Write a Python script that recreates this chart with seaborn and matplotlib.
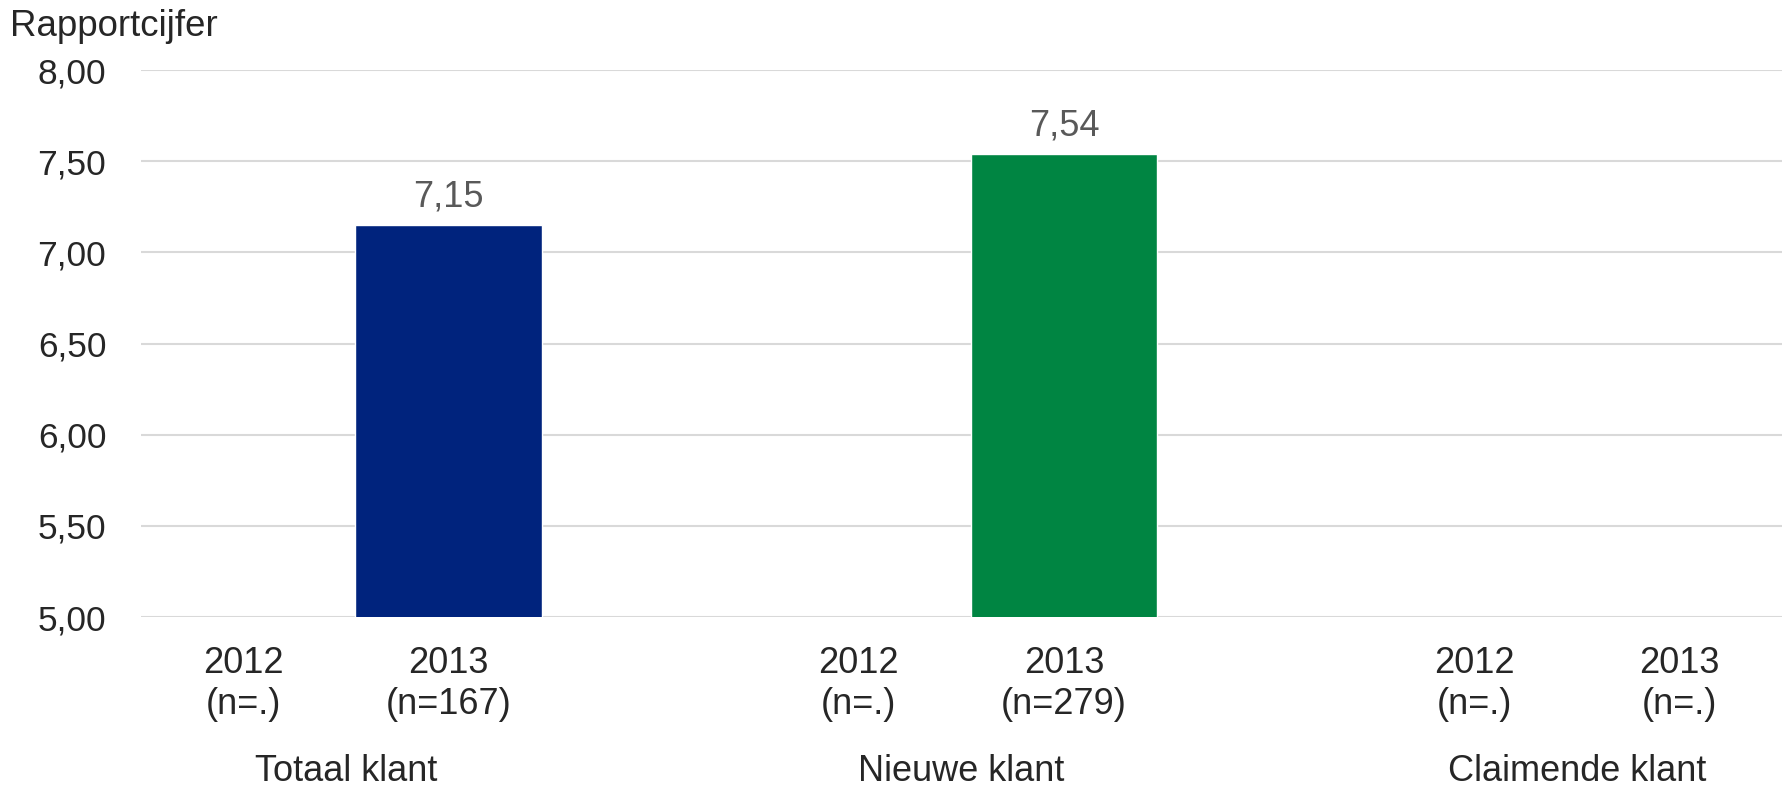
import numpy as np
import pandas as pd
import matplotlib
matplotlib.use("Agg")
import matplotlib.pyplot as plt
import matplotlib.transforms as mtransforms
import seaborn as sns

# Chart data
groups = ["Totaal klant", "Nieuwe klant", "Claimende klant"]
years = ["2012", "2013"]
n_values = [[".", "167"], [".", "279"], [".", "."]]
scores = [[np.nan, 7.15], [np.nan, 7.54], [np.nan, np.nan]]
group_colors = {"Totaal klant": "#00237D", "Nieuwe klant": "#008542", "Claimende klant": "#7F7F7F"}
y_ticks = [5.0, 5.5, 6.0, 6.5, 7.0, 7.5, 8.0]

# Build slot order (blank slot between groups, like the original)
slot_order = []
rows = []
for g, group in enumerate(groups):
    for s, year in enumerate(years):
        slot = f"{group} {year}"
        slot_order.append(slot)
        rows.append({"slot": slot, "group": group, "year": year,
                     "n": n_values[g][s], "score": scores[g][s]})
    if g < len(groups) - 1:
        slot_order.append(" " * (g + 1))
df = pd.DataFrame(rows)

sns.set_style("white")
plt.rcParams["font.family"] = ["Liberation Sans", "DejaVu Sans"]

fig = plt.figure(figsize=(17.9, 7.9), dpi=100)
ax = fig.add_axes([141 / 1790, 173 / 790, (1782 - 141) / 1790, (617 - 70) / 790])

bars = df.dropna(subset=["score"])
sns.barplot(data=bars, x="slot", y="score", hue="group", order=slot_order,
            palette=group_colors, dodge=False, width=0.91, saturation=1,
            legend=False, ax=ax, zorder=3)

ax.set_ylim(5, 8)
ax.set_xlim(-0.5, len(slot_order) - 0.5)
ax.set_yticks(y_ticks)
ax.set_yticklabels([f"{v:.2f}".replace(".", ",") for v in y_ticks])
ax.yaxis.grid(True, color="#D9D9D9", linewidth=1.5, zorder=0)
ax.set_axisbelow(True)
for sp in ax.spines.values():
    sp.set_visible(False)

# x tick labels: year + n
tick_pos = [slot_order.index(s) for s in df["slot"]]
tick_lab = [f"{y}\n(n={n})" for y, n in zip(df["year"], df["n"])]
ax.set_xticks(tick_pos)
ax.set_xticklabels(tick_lab, linespacing=1.2)
ax.tick_params(axis="x", length=0, pad=21, labelsize=26, labelcolor="#262626")
ax.tick_params(axis="y", length=0, pad=25, labelsize=25.5, labelcolor="#262626")
ax.set_xlabel("")
ax.set_ylabel("")

# value labels
for _, r in bars.iterrows():
    ax.annotate(f"{r['score']:.2f}".replace(".", ","),
                (slot_order.index(r["slot"]), r["score"]),
                xytext=(0, 13.5), textcoords="offset points",
                ha="center", va="baseline", fontsize=26, color="#595959")

# group labels under the ticks
trans = mtransforms.blended_transform_factory(ax.transData, fig.transFigure)
for group in groups:
    pos = [slot_order.index(f"{group} {y}") for y in years]
    ax.text(np.mean(pos), 9 / 790, group, transform=trans, ha="center",
            va="baseline", fontsize=26, color="#262626")

fig.text(10 / 1790, (790 - 36) / 790, "Rapportcijfer", ha="left", va="baseline",
         fontsize=26.4, color="#262626")

fig.savefig("out.png", dpi=100)
